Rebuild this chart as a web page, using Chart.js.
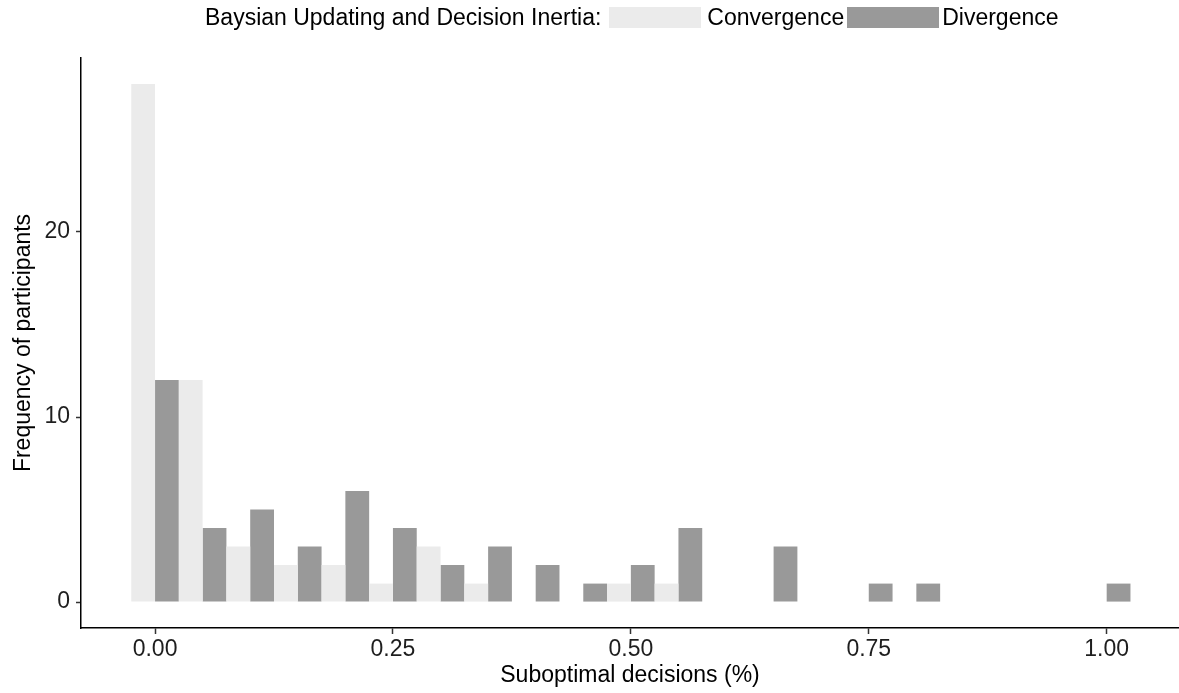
<!DOCTYPE html>
<html>
<head>
<meta charset="utf-8">
<title>Baysian Updating and Decision Inertia</title>
<script src="https://cdn.jsdelivr.net/npm/chart.js@4.4.1/dist/chart.umd.min.js"></script>
<style>
  body {
    margin: 0;
    background: #ffffff;
    font-family: "Liberation Sans", Arial, Helvetica, sans-serif;
  }
  .wrap {
    position: relative;
    width: 1179px;
    height: 693px;
  }
  #chart {
    position: absolute;
    left: 0;
    top: 0;
  }
  .legend {
    position: absolute;
    top: 7px;
    left: 205px;
    height: 21px;
    display: flex;
    align-items: center;
    font-size: 23px;
    line-height: 21px;
    color: #000000;
    white-space: nowrap;
  }
  .legend .key {
    width: 92px;
    height: 21px;
  }
</style>
</head>
<body>
<div class="wrap">
  <canvas id="chart" width="1179" height="693"></canvas>
  <div class="legend" id="legend"></div>
</div>
<script>
// bin centres of the histogram (binwidth 0.05)
const binCenters = [
  0.0, 0.05, 0.1, 0.15, 0.2, 0.25, 0.3, 0.35, 0.4, 0.45, 0.5,
  0.55, 0.6, 0.65, 0.7, 0.75, 0.8, 0.85, 0.9, 0.95, 1.0,
];
const convergenceCounts = [28, 12, 3, 2, 2, 1, 3, 1, 0, 0, 1, 1, 0, 0, 0, 0, 0, 0, 0, 0, 0];
const divergenceCounts = [12, 4, 5, 3, 6, 4, 2, 3, 2, 1, 2, 4, 0, 3, 0, 1, 1, 0, 0, 0, 1];

const xTickValues = [0, 0.25, 0.5, 0.75, 1];
const yTickValues = [0, 10, 20];

const legendTitle = "Baysian Updating and Decision Inertia:";
const seriesNames = ["Convergence", "Divergence"];
const seriesColors = ["#ebebeb", "#999999"];

const fontFamily = '"Liberation Sans", Arial, Helvetica, sans-serif';

const toPoints = (counts) => binCenters.map((x, i) => ({ x, y: counts[i] }));

const axisStyle = {
  grid: {
    display: true,
    offset: false,
    drawOnChartArea: false,
    drawTicks: true,
    tickLength: 5,
    tickColor: "#333333",
    tickWidth: 1.5,
  },
  border: {
    display: true,
    color: "#000000",
    width: 1.5,
  },
};

const chart = new Chart(document.getElementById("chart"), {
  type: "bar",
  data: {
    datasets: [
      {
        label: seriesNames[0],
        data: toPoints(convergenceCounts),
        backgroundColor: seriesColors[0],
        borderWidth: 0,
      },
      {
        label: seriesNames[1],
        data: toPoints(divergenceCounts),
        backgroundColor: seriesColors[1],
        borderWidth: 0,
      },
    ],
  },
  options: {
    responsive: false,
    animation: false,
    devicePixelRatio: 1,
    layout: {
      padding: { top: 58, left: 0, right: 0, bottom: 0 },
    },
    datasets: {
      bar: {
        categoryPercentage: 1,
        barPercentage: 1,
        inflateAmount: 0,
      },
    },
    plugins: {
      legend: { display: false },
      tooltip: { enabled: true },
    },
    scales: {
      x: {
        type: "linear",
        min: -0.0778,
        max: 1.076,
        offset: false,
        ...axisStyle,
        grid: { ...axisStyle.grid, tickLength: 6 },
        afterBuildTicks: (scale) => {
          scale.ticks = xTickValues.map((value) => ({ value }));
        },
        afterFit: (scale) => {
          scale.height = 65;
        },
        ticks: {
          autoSkip: false,
          maxRotation: 0,
          padding: 2,
          color: "#1e1e1e",
          font: { family: fontFamily, size: 23 },
          callback: (value) => Number(value).toFixed(2),
        },
        title: {
          display: true,
          text: "Suboptimal decisions (%)",
          color: "#000000",
          font: { family: fontFamily, size: 23 },
          padding: { top: 0, bottom: 4 },
        },
      },
      y: {
        min: -1.4,
        max: 29.4,
        ...axisStyle,
        afterBuildTicks: (scale) => {
          scale.ticks = yTickValues.map((value) => ({ value }));
        },
        afterFit: (scale) => {
          scale.width = 81;
        },
        ticks: {
          padding: 6,
          color: "#1e1e1e",
          font: { family: fontFamily, size: 23 },
        },
        title: {
          display: true,
          text: "Frequency of participants",
          color: "#000000",
          font: { family: fontFamily, size: 23 },
          padding: { top: 10, bottom: 0 },
        },
      },
    },
  },
});

// legend in one line, like ggplot's top legend
const buildLegend = () => {
  const legend = document.getElementById("legend");
  const title = document.createElement("span");
  title.textContent = legendTitle;
  legend.appendChild(title);
  chart.data.datasets.forEach((dataset, i) => {
    const key = document.createElement("span");
    key.className = "key";
    key.style.background = dataset.backgroundColor;
    key.style.marginLeft = i === 0 ? "8px" : "3px";
    const label = document.createElement("span");
    label.textContent = dataset.label;
    label.style.marginLeft = i === 0 ? "6px" : "3px";
    legend.appendChild(key);
    legend.appendChild(label);
  });
};

buildLegend();
</script>
</body>
</html>
